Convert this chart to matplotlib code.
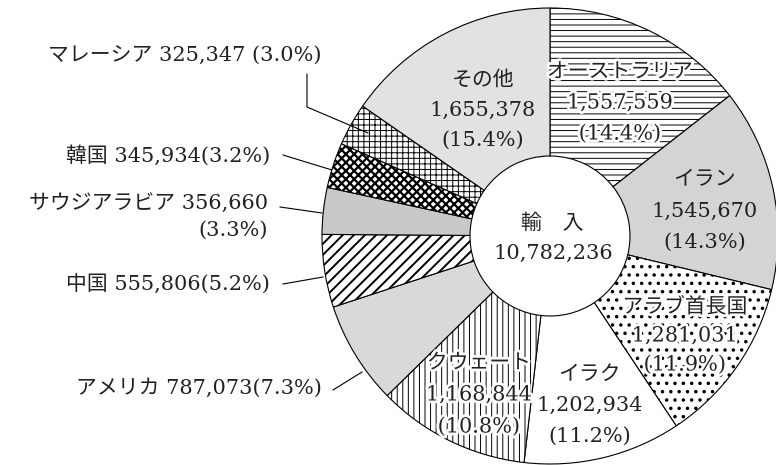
import matplotlib
matplotlib.use('Agg')
import matplotlib.pyplot as plt
import matplotlib.patheffects as pe

plt.rcParams['font.family'] = ['DejaVu Serif', 'Noto Sans CJK JP']
plt.rcParams['hatch.linewidth'] = 0.8

countries = ['オーストラリア', 'イラン', 'アラブ首長国', 'イラク', 'クウェート',
             'アメリカ', '中国', 'サウジアラビア', '韓国', 'マレーシア', 'その他']
values = [1557559, 1545670, 1281031, 1202934, 1168844,
          787073, 555806, 356660, 345934, 325347, 1655378]
shares = [14.4, 14.3, 11.9, 11.2, 10.8, 7.3, 5.2, 3.3, 3.2, 3.0, 15.4]
total = 10782236
center_title = '輸　入'

# styling per wedge
fills = ['white', '#d4d4d4', 'white', 'white', 'white',
         '#d9d9d9', 'white', '#c9c9c9', 'white', 'white', '#e2e2e2']
hatches = ['---', None, '..', None, '|||',
           None, '///', None, 'xxxx', '+++', None]
hatch_lw = [0.7, 0.7, 1.3, 0.7, 0.7, 0.7, 1.4, 0.7, 1.6, 0.7, 0.7]

W, H = 776, 465


def fy(py):
    # pixel row -> data y
    return H - py


fig = plt.figure(figsize=(W / 100, H / 100), dpi=100)
ax = fig.add_axes([0, 0, 1, 1])
ax.set_xlim(0, W)
ax.set_ylim(0, H)
ax.axis('off')

wedges, _ = ax.pie(values, startangle=90, counterclock=False,
                   radius=228, center=(550, fy(236)),
                   colors=fills, hatch=hatches,
                   wedgeprops=dict(width=148, edgecolor='black', linewidth=0.8))
for w, lw in zip(wedges, hatch_lw):
    if hasattr(w, 'set_hatch_linewidth'):
        w.set_hatch_linewidth(lw)
ax.set_aspect('equal')
ax.set_xlim(0, W)
ax.set_ylim(0, H)

fs = 15
tc = '#222222'
halo = [pe.withStroke(linewidth=4, foreground='white')]


def fmt(v):
    return '{:,}'.format(v)


# labels inside the ring (x, y of first line, line gap, halo)
inner = {
    0: (620, 72, 31, True),
    1: (705, 180, 31, False),
    2: (685, 307, 29, True),
    3: (590, 374, 31, False),
    4: (479, 363, 32, True),
    10: (483, 80, 30, False),
}
for i, (x, y, gap, use_halo) in inner.items():
    lines = [countries[i], fmt(values[i]), '({:.1f}%)'.format(shares[i])]
    for k, s in enumerate(lines):
        t = ax.text(x, fy(y + k * gap), s, ha='center', va='center',
                    fontsize=fs, color=tc)
        if use_halo:
            t.set_path_effects(halo)

ax.text(552, fy(223), center_title, ha='center', va='center', fontsize=fs, color=tc)
ax.text(553, fy(253), fmt(total), ha='center', va='center', fontsize=fs, color=tc)

# outside labels with leader lines
ax.text(322, fy(55), '{} {} ({:.1f}%)'.format(countries[9], fmt(values[9]), shares[9]),
        ha='right', va='center', fontsize=fs, color=tc)
ax.plot([307, 307, 368], [fy(74), fy(107), fy(133)], color='black', lw=0.8)

ax.text(270, fy(155), '{} {}({:.1f}%)'.format(countries[8], fmt(values[8]), shares[8]),
        ha='right', va='center', fontsize=fs, color=tc)
ax.plot([283, 332], [fy(155), fy(170)], color='black', lw=0.8)

ax.text(268, fy(203), '{} {}'.format(countries[7], fmt(values[7])),
        ha='right', va='center', fontsize=fs, color=tc)
ax.text(268, fy(230), '({:.1f}%)'.format(shares[7]),
        ha='right', va='center', fontsize=fs, color=tc)
ax.plot([280, 322], [fy(207), fy(213)], color='black', lw=0.8)

ax.text(270, fy(284), '{} {}({:.1f}%)'.format(countries[6], fmt(values[6]), shares[6]),
        ha='right', va='center', fontsize=fs, color=tc)
ax.plot([283, 323], [fy(284), fy(277)], color='black', lw=0.8)

ax.text(322, fy(388), '{} {}({:.1f}%)'.format(countries[5], fmt(values[5]), shares[5]),
        ha='right', va='center', fontsize=fs, color=tc)
ax.plot([333, 362], [fy(390), fy(372)], color='black', lw=0.8)

fig.savefig('out.png', dpi=100, facecolor='white')
